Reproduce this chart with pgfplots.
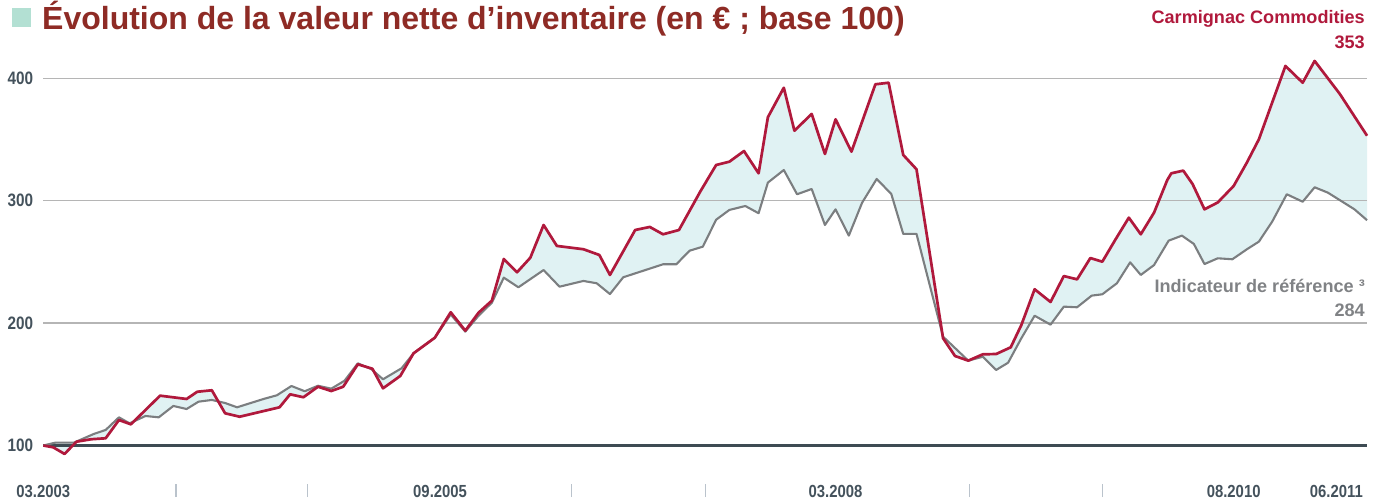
\documentclass[border=0pt]{standalone}
\usepackage{fontspec}
\setmainfont{Liberation Sans}[FakeStretch=0.85]
\newfontfamily\widefont{Liberation Sans}
\usepackage{pgfplots}
\usepackage{pgfplotstable}
\pgfplotsset{compat=1.18}
\usepgfplotslibrary{fillbetween}

\definecolor{titlered}{HTML}{8E2B25}
\definecolor{mint}{HTML}{B3E0D3}
\definecolor{fundred}{HTML}{B0193C}
\definecolor{refgray}{HTML}{7B7E80}
\definecolor{reftext}{HTML}{808285}
\definecolor{fillc}{HTML}{E0F2F3}
\definecolor{gridc}{HTML}{B5B5B5}
\definecolor{basec}{HTML}{3E4B53}
\definecolor{labelc}{HTML}{44525C}
\definecolor{tickc}{HTML}{BAC3CC}

% months since 03.2003, value (base 100)
\pgfplotstableread{
m v
0 100
0.75 98.5
1.6 93.1
2.5 103.1
3.6 105.1
4.7 105.9
5.7 120.8
6.6 117.3
8.8 140.7
10.8 138.0
11.6 143.9
12.7 145.1
13.7 126.3
14.8 123.5
17.8 131.2
18.6 141.8
19.6 139.4
20.7 148.0
21.7 144.5
22.6 148.0
23.7 166.3
24.8 162.7
25.6 146.7
26.9 156.8
27.9 175.3
29.5 188.0
30.7 208.8
31.8 193.8
32.8 208.5
33.8 218.3
34.7 252.3
35.7 241.5
36.7 253.4
37.7 280.1
38.7 263.0
40.7 260.3
41.9 255.6
42.7 239.3
44.6 276.0
45.7 278.5
46.7 272.5
47.9 276.0
49.5 307.3
50.7 329.1
51.7 331.8
52.8 340.5
53.9 322.3
54.6 368.1
55.8 392.2
56.6 357.1
57.9 370.8
58.9 338.1
59.7 366.4
60.9 340.0
62.7 395.0
63.7 396.3
64.8 337.3
65.8 325.6
67.8 187.6
68.7 173.1
69.7 169.3
70.8 174.5
71.8 174.7
72.9 180.2
73.7 198.4
74.7 227.6
75.9 217.2
76.9 238.4
77.9 235.7
78.9 253.1
79.8 250.1
80.8 268.4
81.8 286.1
82.7 272.5
83.7 290.2
84.7 316.9
85.0 322.3
85.9 324.5
86.6 313.6
87.5 292.9
88.5 298.5
89.7 312.0
90.7 331.2
91.6 350.1
93.6 410.0
94.9 396.3
95.8 414.1
97.7 387.1
99.75 353
}\fund

\pgfplotstableread{
m v
0 100
0.9 102.3
2.3 102.3
3.8 109.4
4.7 112.7
5.7 123.0
6.5 118.1
7.7 124.1
8.7 123.0
9.8 132.3
10.8 129.8
11.7 135.8
12.7 137.2
13.7 134.7
14.6 131.2
16.6 138.0
17.6 141.0
18.7 148.6
19.7 144.3
20.7 148.8
21.7 146.4
22.7 152.9
23.7 167.1
24.7 162.5
25.6 154.1
27.0 163.1
27.9 175.3
29.5 188.0
30.7 207.0
31.8 193.0
32.8 206.0
33.8 216.6
34.7 237.1
35.8 229.2
37.7 243.3
38.9 229.7
40.7 234.4
41.7 232.5
42.7 223.7
43.7 237.4
46.7 248.0
47.7 248.0
48.7 259.1
49.7 262.4
50.7 284.4
51.7 292.4
52.9 295.6
53.9 289.7
54.6 314.7
55.8 325.0
56.8 305.2
57.9 309.5
58.9 280.1
59.7 292.9
60.7 271.4
61.7 298.3
62.8 317.7
63.9 305.4
64.8 272.8
65.8 272.8
67.8 188.9
69.7 169.3
70.8 172.5
71.8 161.7
72.7 167.6
73.7 187.6
74.7 206.0
75.9 198.7
76.9 213.4
77.9 212.9
79.0 222.4
79.8 223.5
80.9 232.5
81.9 249.6
82.7 239.3
83.7 247.4
84.8 267.3
85.8 271.4
86.7 264.6
87.5 248.2
88.5 252.9
89.6 252.1
90.7 260.3
91.6 266.5
92.6 282.8
93.7 305.2
94.9 299.1
95.8 310.9
96.8 306.5
97.8 299.7
98.8 292.9
99.75 284
}\bench

\begin{document}
\begin{tikzpicture}
\path (0,0) rectangle (1381pt,501pt);
\begin{axis}[
  at={(43.3pt,17pt)}, anchor=south west,
  scale only axis, width=1323.7pt, height=430.3pt,
  xmin=0, xmax=99.75, ymin=68.55, ymax=420,
  clip=false,
  axis x line*=bottom, axis y line*=left,
  axis line style={draw=none},
  xtick={10.0,19.9,39.8,49.9,69.8,79.8},
  xticklabels={},
  xtick align=outside,
  major tick length=13pt,
  xtick style={draw=tickc, line width=1.3pt},
  ytick={100,200,300,400},
  yticklabels={100,200,300,400},
  ytick style={draw=none},
  yticklabel style={anchor=east, inner sep=0pt, xshift=-10pt,
    font=\bfseries\fontsize{18}{18}\selectfont, text=labelc},
  /pgf/number format/assume math mode=true,
]
\addplot[draw=none, name path=F] table[x=m, y=v] {\fund};
\addplot[draw=none, name path=B] table[x=m, y=v] {\bench};
\addplot[fill=fillc, draw=none] fill between[of=F and B];
% grid lines
\addplot[gridc, line width=1.3pt] coordinates {(0,200) (99.75,200)};
\addplot[gridc, line width=1.3pt] coordinates {(0,300) (99.75,300)};
\addplot[gridc, line width=1.3pt] coordinates {(0,400) (99.75,400)};
\addplot[basec, line width=2.6pt] coordinates {(0,100) (99.75,100)};
% series
\addplot[refgray, line width=2.1pt, line join=round] table[x=m, y=v] {\bench};
\addplot[fundred, line width=2.7pt, line join=round] table[x=m, y=v] {\fund};
% x labels
\node[anchor=base, yshift=-13pt, inner sep=0pt, font=\bfseries\fontsize{17.5}{17.5}\selectfont, text=labelc] at (axis cs:0,68.55) {03.2003};
\node[anchor=base, yshift=-13pt, inner sep=0pt, font=\bfseries\fontsize{17.5}{17.5}\selectfont, text=labelc] at (axis cs:29.9,68.55) {09.2005};
\node[anchor=base, yshift=-13pt, inner sep=0pt, font=\bfseries\fontsize{17.5}{17.5}\selectfont, text=labelc] at (axis cs:59.7,68.55) {03.2008};
\node[anchor=base, yshift=-13pt, inner sep=0pt, font=\bfseries\fontsize{17.5}{17.5}\selectfont, text=labelc] at (axis cs:89.7,68.55) {08.2010};
\node[anchor=base east, yshift=-13pt, inner sep=0pt, font=\bfseries\fontsize{17.5}{17.5}\selectfont, text=labelc] at (axis cs:99.45,68.55) {06.2011};
\end{axis}
% title
\fill[mint] (12pt,474.3pt) rectangle (31pt,492.7pt);
\node[anchor=base west, inner sep=0pt, text=titlered, font=\widefont\bfseries\fontsize{32}{32}\selectfont] at (42pt,471.5pt) {Évolution de la valeur nette d’inventaire (en € ; base 100)};
% legend labels
\node[text=fundred, inner sep=0pt, anchor=base east, font=\widefont\bfseries\fontsize{18.1}{18.1}\selectfont] at (1365pt,477.7pt) {Carmignac Commodities};
\node[text=fundred, inner sep=0pt, anchor=base east, font=\widefont\bfseries\fontsize{18.1}{18.1}\selectfont] at (1365pt,452.7pt) {353};
\node[text=reftext, inner sep=0pt, anchor=base east, font=\widefont\bfseries\fontsize{18.1}{18.1}\selectfont] at (1365pt,208.3pt) {Indicateur de référence ³};
\node[text=reftext, inner sep=0pt, anchor=base east, font=\widefont\bfseries\fontsize{18.1}{18.1}\selectfont] at (1365pt,184.3pt) {284};
\end{tikzpicture}
\end{document}
